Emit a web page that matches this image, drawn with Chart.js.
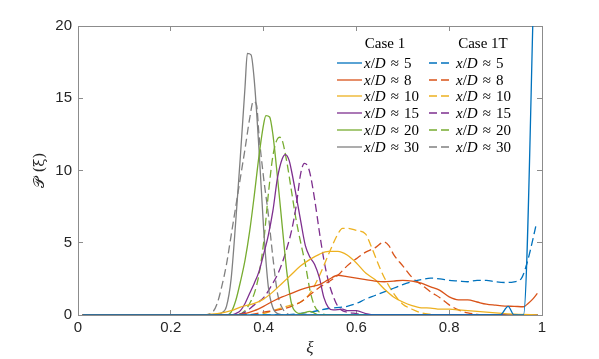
<!DOCTYPE html>
<html>
<head>
<meta charset="utf-8">
<script src="https://cdn.jsdelivr.net/npm/chart.js@4.4.1/dist/chart.umd.min.js"></script>
<style>
  html, body { margin: 0; padding: 0; background: #fff; }
  #wrap { position: relative; width: 599px; height: 359px; }
  #legend { position: absolute; left: 0; top: 0; font-family: "Liberation Serif", serif; font-size: 15px; color: #000; }
  #legend .hd { position: absolute; transform: translate(-50%, -50%); white-space: nowrap; }
  #legend .tx { position: absolute; transform: translateY(-50%); white-space: nowrap; }
  #legend .tx i { font-style: italic; }
  #legend .rel { padding: 0 5px; }
  #legend svg { position: absolute; overflow: visible; }
</style>
</head>
<body>
<div id="wrap">
  <canvas id="c" width="599" height="359"></canvas>
  <div id="legend"></div>
</div>
<script>
// x/D stations, one line per station and case
const stations = [5, 8, 10, 15, 20, 30];
const caseNames = ['Case 1', 'Case 1T'];
const xTicks = [0, 0.2, 0.4, 0.6, 0.8, 1];
const yTicks = [0, 5, 10, 15, 20];

// Case 1 (solid)
const xi_c1_5  = [0.01, 0.91, 0.927, 0.94, 0.96, 0.985];
const p_c1_5   = [0, 0, 0.6, 0, 0, 26];
const xi_c1_8  = [0.01, 0.33, 0.36, 0.38, 0.40, 0.42, 0.44, 0.46, 0.48, 0.50, 0.52, 0.54, 0.56, 0.58, 0.60, 0.62, 0.64, 0.66, 0.68, 0.70, 0.72, 0.74, 0.76, 0.78, 0.80, 0.82, 0.84, 0.86, 0.88, 0.90, 0.92, 0.94, 0.96, 0.97, 0.98, 0.99];
const p_c1_8   = [0, 0, 0.1, 0.3, 0.6, 0.95, 1.25, 1.5, 1.75, 1.95, 2.1, 2.45, 2.75, 2.65, 2.55, 2.45, 2.35, 2.3, 2.35, 2.4, 2.35, 2.2, 1.95, 1.7, 1.25, 1.05, 1.05, 0.9, 0.75, 0.68, 0.62, 0.6, 0.57, 0.8, 1.1, 1.5];
const xi_c1_10 = [0.01, 0.25, 0.30, 0.33, 0.35, 0.38, 0.40, 0.42, 0.44, 0.46, 0.48, 0.50, 0.52, 0.54, 0.56, 0.58, 0.60, 0.62, 0.64, 0.66, 0.68, 0.70, 0.72, 0.74, 0.76, 0.78, 0.80, 0.82, 0.84, 0.86, 0.88, 0.90, 0.92, 0.95, 0.99];
const p_c1_10  = [0, 0, 0.1, 0.3, 0.55, 0.8, 1.1, 1.6, 2.2, 2.8, 3.4, 3.85, 4.2, 4.4, 4.4, 4.15, 3.6, 2.9, 2.45, 1.8, 1.25, 0.9, 0.65, 0.5, 0.48, 0.4, 0.4, 0.35, 0.3, 0.25, 0.2, 0.15, 0.1, 0.05, 0];
const xi_c1_15 = [0.01, 0.33, 0.34, 0.35, 0.36, 0.37, 0.38, 0.39, 0.40, 0.41, 0.42, 0.43, 0.44, 0.447, 0.455, 0.46, 0.47, 0.48, 0.49, 0.50, 0.51, 0.52, 0.53, 0.54, 0.55, 0.57, 0.58, 0.60, 0.62, 0.64, 0.99];
const p_c1_15  = [0, 0, 0.1, 0.3, 0.8, 1.5, 2.2, 3, 4.2, 5.5, 7.2, 9.5, 10.8, 11.1, 10.7, 10, 8.3, 6.5, 4.8, 4, 3.5, 2.6, 1.2, 0.5, 0.35, 0.4, 0.3, 0.3, 0.1, 0, 0];
const xi_c1_20 = [0.01, 0.32, 0.33, 0.34, 0.35, 0.36, 0.37, 0.38, 0.39, 0.40, 0.405, 0.413, 0.42, 0.43, 0.44, 0.45, 0.46, 0.47, 0.48, 0.50, 0.52, 0.99];
const p_c1_20  = [0, 0, 0.2, 1, 2.3, 3.8, 5.8, 8.3, 11, 13.2, 13.8, 13.7, 12.5, 9.5, 6.2, 3, 0.8, 0.2, 0.1, 0.25, 0, 0];
const xi_c1_30 = [0.01, 0.29, 0.30, 0.31, 0.32, 0.33, 0.34, 0.35, 0.36, 0.365, 0.373, 0.38, 0.39, 0.40, 0.41, 0.42, 0.43, 0.45, 0.99];
const p_c1_30  = [0, 0, 0.05, 0.15, 0.6, 2.5, 6.5, 11, 15.8, 18.1, 18.0, 16.2, 11.5, 6, 2, 0.5, 0.1, 0, 0];

// Case 1T (dashed)
const xi_c1t_5  = [0.01, 0.40, 0.46, 0.50, 0.54, 0.58, 0.60, 0.62, 0.64, 0.66, 0.68, 0.70, 0.72, 0.74, 0.76, 0.78, 0.80, 0.82, 0.84, 0.86, 0.88, 0.90, 0.92, 0.94, 0.955, 0.965, 0.975, 0.987];
const p_c1t_5   = [0, 0, 0.05, 0.2, 0.45, 0.6, 0.8, 1.1, 1.35, 1.6, 1.85, 2.1, 2.3, 2.45, 2.55, 2.5, 2.4, 2.35, 2.3, 2.4, 2.4, 2.3, 2.25, 2.3, 2.5, 3.3, 4.5, 6.2];
const xi_c1t_8  = [0.01, 0.36, 0.40, 0.44, 0.46, 0.48, 0.50, 0.52, 0.54, 0.56, 0.58, 0.60, 0.62, 0.64, 0.66, 0.67, 0.68, 0.70, 0.72, 0.74, 0.76, 0.78, 0.80, 0.82, 0.84, 0.86, 0.88, 0.99];
const p_c1t_8   = [0, 0, 0.2, 0.4, 0.6, 0.9, 1.4, 1.9, 2.3, 2.75, 3.4, 3.9, 4.35, 4.65, 5.05, 4.8, 4.2, 3.4, 2.6, 2.1, 1.6, 1.2, 0.7, 0.35, 0.15, 0.05, 0, 0];
const xi_c1t_10 = [0.01, 0.38, 0.40, 0.42, 0.44, 0.46, 0.48, 0.50, 0.52, 0.54, 0.56, 0.57, 0.58, 0.60, 0.62, 0.63, 0.64, 0.65, 0.66, 0.68, 0.70, 0.72, 0.74, 0.76, 0.78, 0.99];
const p_c1t_10  = [0, 0, 0.1, 0.3, 0.5, 0.7, 0.9, 1.5, 2.7, 4.2, 5.6, 6.0, 6.0, 5.85, 5.6, 4.9, 4.1, 3.3, 2.6, 1.5, 0.75, 0.4, 0.15, 0.05, 0, 0];
const xi_c1t_15 = [0.01, 0.34, 0.36, 0.38, 0.40, 0.42, 0.43, 0.44, 0.45, 0.46, 0.47, 0.48, 0.488, 0.495, 0.50, 0.51, 0.52, 0.53, 0.54, 0.55, 0.56, 0.57, 0.58, 0.60, 0.62, 0.99];
const p_c1t_15  = [0, 0, 0.2, 0.7, 1.2, 2.2, 2.8, 3.6, 4.6, 5.8, 7.5, 9.8, 10.5, 10.3, 9.8, 8, 5.8, 3.8, 2.3, 1.3, 0.6, 0.3, 0.2, 0.1, 0, 0];
const xi_c1t_20 = [0.01, 0.34, 0.36, 0.37, 0.38, 0.39, 0.40, 0.41, 0.42, 0.43, 0.435, 0.44, 0.45, 0.46, 0.47, 0.48, 0.49, 0.50, 0.51, 0.52, 0.54, 0.99];
const p_c1t_20  = [0, 0, 0.3, 0.8, 1.5, 2.8, 5, 8.3, 11, 12.2, 12.3, 12.1, 10.6, 8.6, 6.6, 5, 3.5, 1.7, 0.6, 0.2, 0, 0];
const xi_c1t_30 = [0.01, 0.27, 0.29, 0.30, 0.31, 0.32, 0.33, 0.34, 0.35, 0.36, 0.37, 0.378, 0.385, 0.39, 0.40, 0.41, 0.42, 0.43, 0.44, 0.46, 0.99];
const p_c1t_30  = [0, 0, 0.2, 0.8, 2, 3.5, 5.5, 7.5, 9.5, 11.5, 13.6, 14.8, 14.5, 12.5, 9.5, 7, 4, 1.5, 0.5, 0, 0];

const case1  = [[xi_c1_5, p_c1_5], [xi_c1_8, p_c1_8], [xi_c1_10, p_c1_10], [xi_c1_15, p_c1_15], [xi_c1_20, p_c1_20], [xi_c1_30, p_c1_30]];
const case1T = [[xi_c1t_5, p_c1t_5], [xi_c1t_8, p_c1t_8], [xi_c1t_10, p_c1t_10], [xi_c1t_15, p_c1t_15], [xi_c1t_20, p_c1t_20], [xi_c1t_30, p_c1t_30]];

const colors = ['#0072BD', '#D95319', '#EDB120', '#7E2F8E', '#77AC30', '#808080'];
const AXIS = '#8c8c8c';
const DASH = [8, 4];

function toPoints(xs, ys) {
  return xs.map((x, i) => ({ x: x, y: ys[i] }));
}

const datasets = [];
[case1, case1T].forEach((cs, c) => {
  cs.forEach((s, i) => {
    datasets.push({
      label: caseNames[c] + ' x/D ≈ ' + stations[i],
      data: toPoints(s[0], s[1]),
      xAxisID: 'x',
      yAxisID: 'y',
      borderColor: colors[i],
      borderWidth: 1.3,
      borderDash: c === 1 ? DASH : [],
      pointRadius: 0,
      fill: false,
      cubicInterpolationMode: 'monotone'
    });
  });
});

// MATLAB box: axis borders on all four sides, short ticks pointing inward
const inwardGrid = { display: true, drawOnChartArea: false, drawTicks: true, tickLength: -5, color: AXIS, lineWidth: 1 };
const axisBorder = { display: true, color: AXIS, width: 1 };
const tickFont = { family: '"Liberation Sans", Arial, sans-serif', size: 15 };

new Chart(document.getElementById('c'), {
  type: 'line',
  data: { datasets: datasets },
  options: {
    responsive: false,
    animation: false,
    layout: { padding: { top: 26, right: 57, left: 0, bottom: 0 } },
    plugins: { legend: { display: false }, tooltip: { enabled: false } },
    scales: {
      x: {
        type: 'linear',
        position: 'bottom',
        min: 0, max: 1,
        grid: inwardGrid,
        border: axisBorder,
        afterBuildTicks: s => { s.ticks = xTicks.map(v => ({ value: v })); },
        afterFit: s => { s.height = 44; },
        ticks: { padding: 9, color: '#262626', font: tickFont, callback: v => String(v) },
        title: {
          display: true,
          text: 'ξ',
          color: '#262626',
          font: { family: '"Liberation Serif", serif', size: 17, style: 'italic' },
          padding: { top: 0, bottom: 0 }
        }
      },
      xTop: {
        type: 'linear',
        position: 'top',
        min: 0, max: 1,
        grid: inwardGrid,
        border: axisBorder,
        afterBuildTicks: s => { s.ticks = xTicks.map(v => ({ value: v })); },
        afterFit: s => { s.height = 0; },
        ticks: { display: false }
      },
      y: {
        type: 'linear',
        position: 'left',
        min: 0, max: 20,
        grid: inwardGrid,
        border: axisBorder,
        afterBuildTicks: s => { s.ticks = yTicks.map(v => ({ value: v })); },
        afterFit: s => { s.width = 78; },
        ticks: { padding: 11, color: '#262626', font: tickFont },
        title: {
          display: true,
          text: '𝒫 (ξ)',
          color: '#262626',
          font: { family: '"DejaVu Serif", serif', size: 15 },
          padding: { top: 31, bottom: 0 }
        }
      },
      yRight: {
        type: 'linear',
        position: 'right',
        min: 0, max: 20,
        grid: inwardGrid,
        border: axisBorder,
        afterBuildTicks: s => { s.ticks = yTicks.map(v => ({ value: v })); },
        afterFit: s => { s.width = 0; },
        ticks: { display: false }
      }
    }
  }
});

// legend (two columns: solid Case 1, dashed Case 1T)
(function buildLegend() {
  const lg = document.getElementById('legend');
  let html = '';
  const cols = [
    { head: 385, lineL: 337, lineR: 362, text: 364 },
    { head: 483, lineL: 429, lineR: 451, text: 456 }
  ];
  const headY = 43, row0 = 63, rowStep = 16.7;
  cols.forEach((col, c) => {
    html += '<div class="hd" style="left:' + col.head + 'px;top:' + headY + 'px">' + caseNames[c] + '</div>';
    stations.forEach((d, i) => {
      const yy = row0 + i * rowStep;
      const dash = c === 1 ? ' stroke-dasharray="8 4"' : '';
      html += '<svg style="left:' + col.lineL + 'px;top:' + (yy - 1) + 'px" width="' + (col.lineR - col.lineL) + '" height="2">' +
        '<line x1="0" y1="1" x2="' + (col.lineR - col.lineL) + '" y2="1" stroke="' + colors[i] + '" stroke-width="1.3"' + dash + '/></svg>';
      html += '<div class="tx" style="left:' + col.text + 'px;top:' + yy + 'px"><i>x</i>/<i>D</i><span class="rel">≈</span>' + d + '</div>';
    });
  });
  lg.innerHTML = html;
})();
</script>
</body>
</html>
